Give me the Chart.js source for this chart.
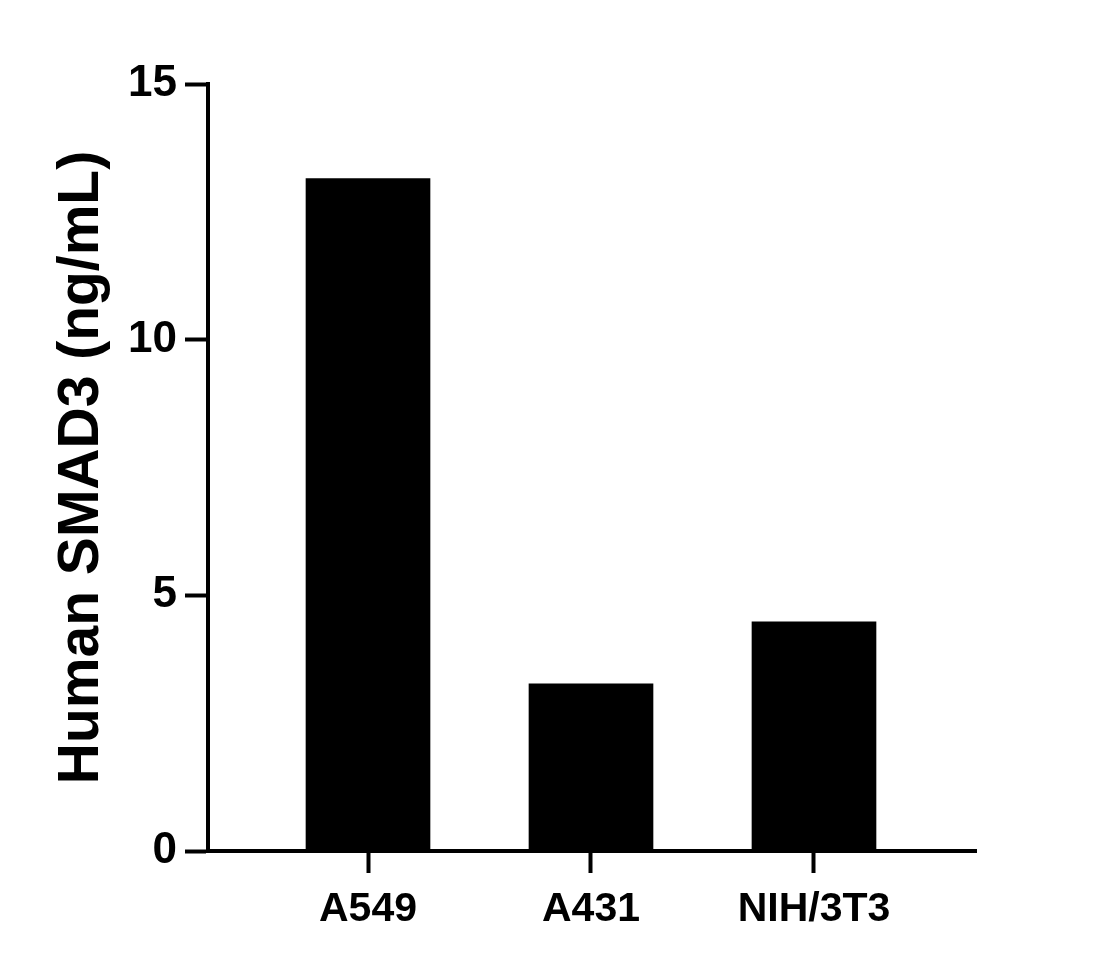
<!DOCTYPE html>
<html>
<head>
<meta charset="utf-8">
<script src="https://cdn.jsdelivr.net/npm/chart.js@4"></script>
<style>
  html, body { margin: 0; padding: 0; background: #fff; }
  #wrap { width: 1113px; height: 968px; }
</style>
</head>
<body>
<div id="wrap"><canvas id="smadChart" width="1113" height="968"></canvas></div>
<script>
const CATEGORIES = ['A549', 'A431', 'NIH/3T3'];
const SMAD3_VALUES = [13.15, 3.27, 4.48];
const Y_TICKS = [0, 5, 10, 15];

const FONT = 'Liberation Sans, Arial, sans-serif';

new Chart(document.getElementById('smadChart'), {
    type: 'bar',
    data: {
        datasets: [{
            label: 'Human SMAD3 (ng/mL)',
            data: CATEGORIES.map((c, i) => ({ x: i + 1, y: SMAD3_VALUES[i] })),
            backgroundColor: '#000',
            borderWidth: 0,
            barThickness: 124,
        }]
    },
    options: {
        responsive: false,
        animation: false,
        layout: { padding: { top: 84, right: 137, left: 0, bottom: 0 } },
        plugins: { legend: { display: false }, tooltip: { enabled: false } },
        scales: {
            x: {
                type: 'linear',
                offset: false,
                min: 0.2825,
                max: 3.7265,
                afterBuildTicks: s => { s.ticks = CATEGORIES.map((c, i) => ({ value: i + 1 })); },
                afterFit: s => { s.height = 117; },
                ticks: {
                    callback: (v) => CATEGORIES[v - 1],
                    color: '#000',
                    font: { family: FONT, size: 41, weight: 'bold' },
                    padding: 12,
                    maxRotation: 0,
                    autoSkip: false,
                },
                grid: { offset: false, drawOnChartArea: false, tickLength: 22, tickWidth: 4, tickColor: '#000' },
                border: { display: true, color: '#000', width: 4 },
            },
            y: {
                min: 0,
                max: 15,
                afterBuildTicks: s => { s.ticks = Y_TICKS.map(v => ({ value: v })); },
                afterFit: s => { s.width = 208; },
                ticks: {
                    color: '#000',
                    font: { family: FONT, size: 44, weight: 'bold' },
                    padding: 8,
                },
                grid: { drawOnChartArea: false, tickLength: 23, tickWidth: 4, tickColor: '#000' },
                border: { display: true, color: '#000', width: 4 },
                title: {
                    display: true,
                    text: 'Human SMAD3 (ng/mL)',
                    color: '#000',
                    font: { family: FONT, size: 57, weight: 'bold' },
                    padding: { top: 48, bottom: 0 },
                },
            }
        }
    }
});
</script>
</body>
</html>
